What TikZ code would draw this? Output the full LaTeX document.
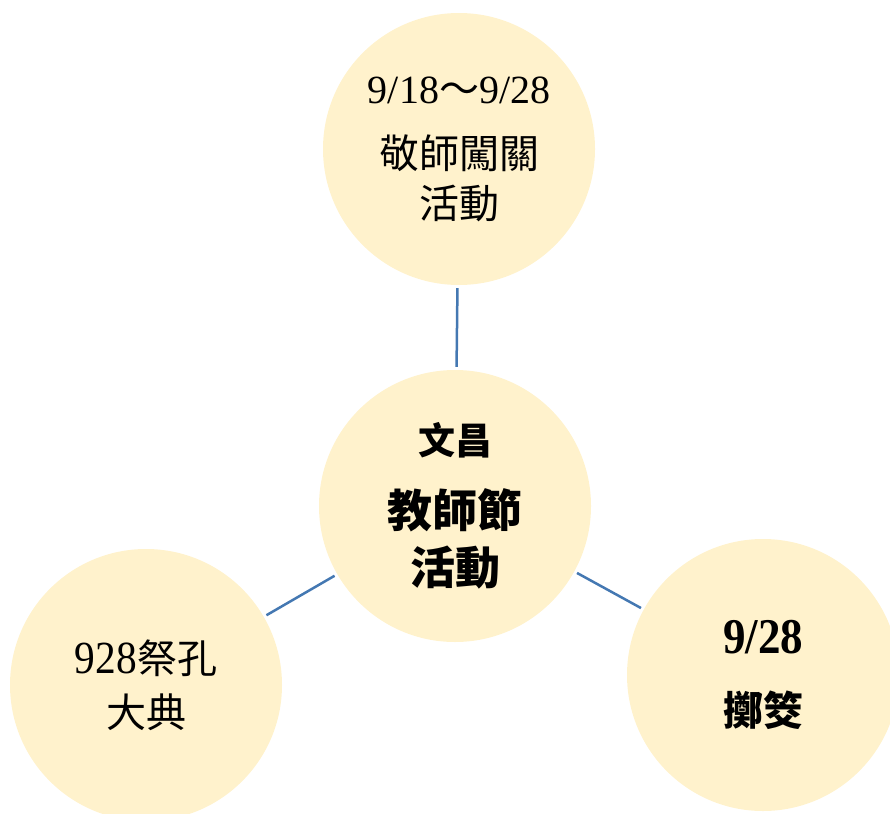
\documentclass[tikz,border=0pt]{standalone}
\usepackage{fontspec}
\newfontfamily\cjk{Noto Sans CJK TC}
\newfontfamily\dig{Liberation Serif}
\newfontfamily\digc[FakeStretch=0.9]{Liberation Serif}
\definecolor{circfill}{HTML}{FFF2CC}
\definecolor{linkblue}{HTML}{4478B2}
\begin{document}
\begin{tikzpicture}[x=1pt,y=-1pt,
  bubble/.style={circle,fill=circfill,draw=none,minimum size=272pt,inner sep=0pt,align=center},
  link/.style={draw=linkblue,line width=2.5pt,shorten <=3pt,shorten >=3pt}]
\useasboundingbox (0,0) rectangle (890,813);
\begin{scope}
\clip (0,0) rectangle (890,813);
\node[bubble,font={\cjk\fontsize{40}{50}\selectfont}] (top) at (459,149)
  {{\dig\fontsize{40}{50}\selectfont 9/18}{\fontsize{40}{50}\selectfont～}{\dig\fontsize{40}{50}\selectfont 9/28}\\[15pt]敬師闖關\\活動};
\node[bubble,font={\cjk\bfseries\fontsize{45}{57}\selectfont}] (mid) at (455,506)
  {{\fontsize{37}{57}\selectfont 文昌}\\[16pt]教師節\\活動};
\node[bubble,font={\cjk\fontsize{40}{54}\selectfont}] (left) at (146,685)
  {{\digc\fontsize{46}{54}\selectfont 928}祭孔\\大典};
\node[bubble,font={\cjk\bfseries\fontsize{40}{54}\selectfont}] (right) at (763,675)
  {{\digc\bfseries\fontsize{50}{54}\selectfont 9/28}\\[18pt]擲筊};
\end{scope}
\draw[link] (top) -- (mid);
\draw[link] (left) -- (mid);
\draw[link] (right) -- (mid);
\end{tikzpicture}
\end{document}
